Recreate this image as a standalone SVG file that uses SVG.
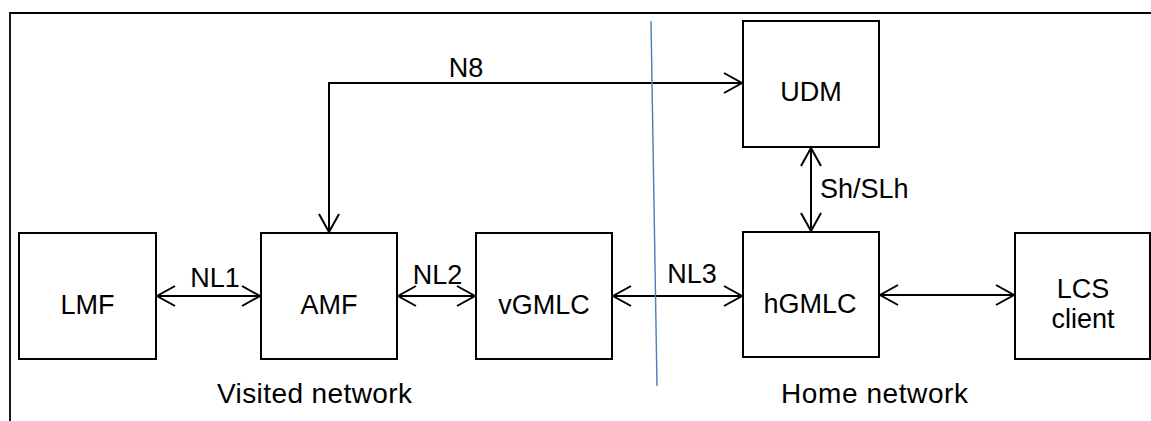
<svg xmlns="http://www.w3.org/2000/svg" width="1151" height="421" viewBox="0 0 1151 421">
<defs>
<style>
.box{fill:#fff;stroke:#000;stroke-width:2}
.lbl{font-family:"Liberation Sans",Arial,sans-serif;font-size:27px;fill:#000}
.net{font-size:28px}
.c{text-anchor:middle}
.conn{fill:none;stroke:#000;stroke-width:2;marker-start:url(#ah);marker-end:url(#ah)}
</style>
<marker id="ah" markerUnits="userSpaceOnUse" viewBox="-20 -12 22 24" refX="0" refY="0" markerWidth="22" markerHeight="24" orient="auto-start-reverse">
<path d="M-18,-10 L0,0 L-18,10" fill="none" stroke="#000" stroke-width="2"/>
</marker>
</defs>
<rect width="1151" height="421" fill="#fff"/>
<path d="M10,421 V13 H1151" fill="none" stroke="#000" stroke-width="1.8"/>
<g id="connectors">
<path class="conn" d="M157,296 H260"/>
<path class="conn" d="M398,296 H475"/>
<path class="conn" d="M613,296 H742"/>
<path class="conn" d="M880,295 H1014"/>
<path class="conn" d="M811,148 V231"/>
<path class="conn" d="M329,232 V83 H742"/>
<text class="lbl c" x="466" y="77">N8</text>
<text class="lbl c" x="215" y="287">NL1</text>
<text class="lbl c" x="437.5" y="284">NL2</text>
<text class="lbl c" x="692" y="283">NL3</text>
<text class="lbl" x="820" y="198">Sh/SLh</text>
</g>
<g id="LMF"><rect class="box" x="19" y="233" width="137" height="126"/><text class="lbl c" x="87.5" y="314">LMF</text></g>
<g id="AMF"><rect class="box" x="261" y="233" width="136" height="126"/><text class="lbl c" x="329" y="314">AMF</text></g>
<g id="vGMLC"><rect class="box" x="476" y="233" width="136" height="126"/><text class="lbl c" x="544" y="314">vGMLC</text></g>
<g id="hGMLC"><rect class="box" x="743" y="232" width="136" height="125"/><text class="lbl c" x="810" y="313">hGMLC</text></g>
<g id="UDM"><rect class="box" x="743" y="21" width="136" height="126"/><text class="lbl c" x="811" y="101">UDM</text></g>
<g id="LCSclient"><rect class="box" x="1015" y="233" width="135" height="126"/><text class="lbl c" x="1083" y="298">LCS</text><text class="lbl c" x="1083" y="328">client</text></g>
<line x1="651" y1="21" x2="657" y2="386" stroke="#4a7ebb" stroke-width="1.4"/>
<text class="lbl net" x="217" y="403" textLength="195" lengthAdjust="spacing">Visited network</text>
<text class="lbl net" x="781" y="403" textLength="187" lengthAdjust="spacing">Home network</text>
</svg>
